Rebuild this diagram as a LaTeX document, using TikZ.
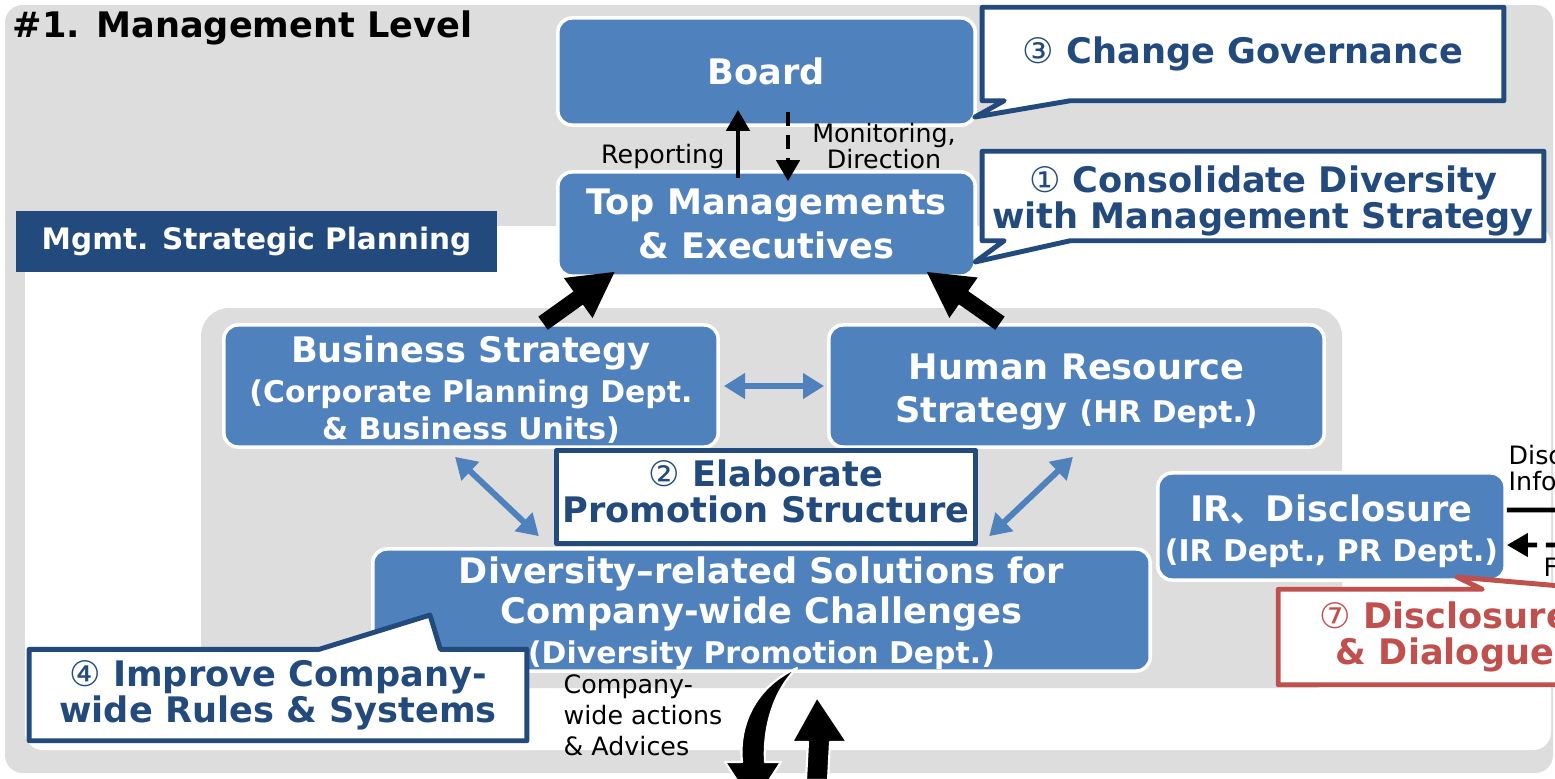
\documentclass[tikz,border=0pt]{standalone}
\usepackage{fontspec}
\setmainfont{DejaVu Sans}
\newfontfamily\circfont{DejaVu Sans}
\newfontfamily\cjkfont{Noto Sans CJK JP}
\usetikzlibrary{arrows.meta}
\definecolor{boxblue}{HTML}{4F81BD}
\definecolor{darkblu}{HTML}{234A7C}
\definecolor{panelgray}{HTML}{DDDDDD}
\definecolor{callred}{HTML}{C0504D}
\pgfdeclarelayer{front}
\pgfsetlayers{main,front}
\newcommand\cnum[1]{{\circfont\mdseries#1}}
\newcommand\smtxt{\fontsize{8.5}{10.5}\selectfont}
\newcommand\up[1]{\rule{0pt}{#1}}
\begin{document}
\begin{tikzpicture}[x=0.01cm,y=-0.01cm,line join=round,
	box/.style={draw=white,line width=1pt,fill=boxblue,rounded corners=4pt,text=white,font=\bfseries\fontsize{10}{11.4}\selectfont,align=center,inner sep=0pt},
	calltxt/.style={text=darkblu,font=\bfseries\fontsize{10}{10.3}\selectfont,align=center,inner sep=0pt},
	callout/.style={draw=darkblu,line width=1.4pt,fill=white},
	lbl/.style={font=\fontsize{7.2}{7.4}\selectfont,inner sep=0pt,align=center},
	bigarr/.style={line width=4.6pt,-{Triangle[length=13pt,width=13pt]}},
	dblarr/.style={boxblue,line width=1.7pt,{Triangle[length=6pt,width=7pt]}-{Triangle[length=6pt,width=7pt]}},
	thinarr/.style={line width=1.4pt,-{Triangle[length=6pt,width=6.5pt]}}]
	\useasboundingbox (0,0) rectangle (1555,778);
	\clip (0,0) rectangle (1555,778);
	% panels
	\fill[panelgray,rounded corners=5pt] (5,5) rectangle (1553,773);
	\fill[white,rounded corners=5pt] (25,226) rectangle (1551,750);
	\fill[panelgray,rounded corners=8pt] (201,308) rectangle (1342,688);
	\node[anchor=west,font=\bfseries\fontsize{10}{12}\selectfont,inner sep=0pt] (title) at (12,28) {\#1. Management Level};
	\node[fill=darkblu,text=white,font=\bfseries\fontsize{8.4}{10}\selectfont,minimum width=4.81cm,minimum height=0.61cm,inner sep=0pt] (plan) at (256.5,241.5) {Mgmt. Strategic Planning};
	% boxes
	\node[box,minimum width=4.17cm,minimum height=1.07cm] (board) at (766.5,71.5) {Board};
	\node[box,minimum width=4.17cm,minimum height=1.04cm] (top) at (766.5,224) {Top Managements\\[1pt]\& Executives};
	\node[box,minimum width=4.94cm,minimum height=1.22cm] (biz) at (471,386) {\up{9.6pt}Business Strategy\\{\smtxt (Corporate Planning Dept.}\\[-1pt]{\smtxt \& Business Units)}};
	\node[box,minimum width=4.95cm,minimum height=1.22cm] (hr) at (1076.5,386) {\up{10.7pt}Human Resource\\[1pt]Strategy {\smtxt (HR Dept.)}};
	\node[box,minimum width=7.77cm,minimum height=1.22cm] (div) at (761.5,610) {\up{9.3pt}Diversity–related Solutions for\\Company-wide Challenges\\{\smtxt (Diversity Promotion Dept.)}};
	\node[box,minimum width=3.47cm,minimum height=1.07cm] (ir) at (1331.5,526.5) {\up{10.1pt}IR{\cjkfont 、}Disclosure\\{\smtxt (IR Dept., PR Dept.)}};
	% callout texts
	\begin{pgfonlayer}{front}
	\node[calltxt,minimum width=5.2cm,minimum height=0.92cm] (gov) at (1243,54) {\cnum{③} Change Governance};
	\node[calltxt,minimum width=5.6cm,minimum height=0.88cm] (cons) at (1263,196) {\up{10.4pt}\cnum{①} Consolidate Diversity\\with Management Strategy};
	\node[calltxt,minimum width=4.18cm,minimum height=0.92cm] (elab) at (766,497) {\cnum{②} Elaborate\\Promotion Structure\rule[-3.2pt]{0pt}{0pt}};
	\node[calltxt,minimum width=4.96cm,minimum height=0.9cm] (impr) at (278,695) {\cnum{④} Improve Company-\\wide Rules \& Systems};
	\node[calltxt,text=callred,minimum width=3.32cm,minimum height=0.94cm] (disc) at (1445,637) {\cnum{⑦} Disclosure\\\& Dialogue};
	\end{pgfonlayer}
	% arrows
	\draw[thinarr,shorten <=-0.08cm,shorten >=-0.17cm] ([xshift=-0.285cm]top.north) -- ([xshift=-0.285cm]board.south);
	\draw[thinarr,dash pattern=on 4pt off 2.5pt,shorten <=-0.15cm,shorten >=-0.11cm] ([xshift=0.215cm]board.south) -- ([xshift=0.215cm]top.north);
	\node[lbl,anchor=east] (rep) at (725,157) {Reporting};
	\node[lbl] (mon) at (884,146) {Monitoring,\\Direction};
	\draw[bigarr,shorten >=-0.11cm] ([xshift=0.72cm]biz.north) -- ([xshift=-1.6cm]top.south);
	\draw[bigarr,shorten >=-0.11cm] ([xshift=-0.765cm]hr.north) -- ([xshift=1.685cm]top.south);
	\draw[dblarr] ([xshift=0.04cm]biz.east) -- ([xshift=-0.03cm]hr.west);
	\draw[dblarr] ([xshift=-0.16cm,yshift=-0.08cm]biz.south) -- ([xshift=-2.225cm,yshift=0.11cm]div.north);
	\draw[dblarr] ([xshift=-0.035cm,yshift=-0.08cm]hr.south) -- ([xshift=2.275cm,yshift=0.11cm]div.north);
	\coordinate (discout) at (1560,510);
	\coordinate (discin) at (1560,545);
	\draw[line width=1.4pt] ([yshift=0.165cm]ir.east) -- (discout);
	\draw[thinarr,dash pattern=on 4pt off 2.5pt] (discin) -- ([yshift=-0.185cm]ir.east);
	\node[lbl,anchor=west,align=left] (info) at (1508,468) {Disc\\Info};
	\node[lbl,anchor=west] (fb) at (1543,567) {F};
	\node[lbl,anchor=north west,align=left,font=\fontsize{7.2}{8.8}\selectfont] (act) at (563,674) {Company-\\wide actions\\\& Advices};
	\fill[draw=white,line width=0.6pt] (797,668) .. controls (758,685) and (738,722) .. (742,762) -- (725,762) -- (753,805) -- (781,762) -- (765,762) .. controls (763,727) and (774,690) .. (797,668) -- cycle;
	\fill[draw=white,line width=0.6pt] (806,780) -- (808,742) -- (792,742) -- (817,697) -- (847,742) -- (830,742) -- (828,780) -- cycle;
	% callout frames
	\coordinate (govtip) at (975,117);
	\coordinate (constip) at (975,262);
	\coordinate (imprtip) at (430,615);
	\coordinate (disctip) at (1457,577);
	\draw[callout] (gov.north west) -- (gov.north east) -- (gov.south east) -- ([xshift=0.88cm]gov.south west) -- (govtip) -- ([xshift=0.22cm]gov.south west) -- (gov.south west) -- cycle;
	\draw[callout] (cons.north west) -- (cons.north east) -- (cons.south east) -- ([xshift=0.88cm]cons.south west) -- (constip) -- ([xshift=0.22cm]cons.south west) -- (cons.south west) -- cycle;
	\draw[callout] (elab.north west) rectangle (elab.south east);
	\draw[callout] (impr.south west) -- (impr.north west) -- ([xshift=2.9cm]impr.north west) -- (imprtip) -- ([xshift=4.11cm]impr.north west) -- (impr.north east) -- (impr.south east) -- cycle;
	\draw[callout,draw=callred] (disc.south west) -- (disc.north west) -- ([xshift=2.04cm]disc.north west) -- (disctip) -- ([xshift=3.2cm]disc.north west) -- (disc.north east) -- (disc.south east) -- cycle;
\end{tikzpicture}
\end{document}
